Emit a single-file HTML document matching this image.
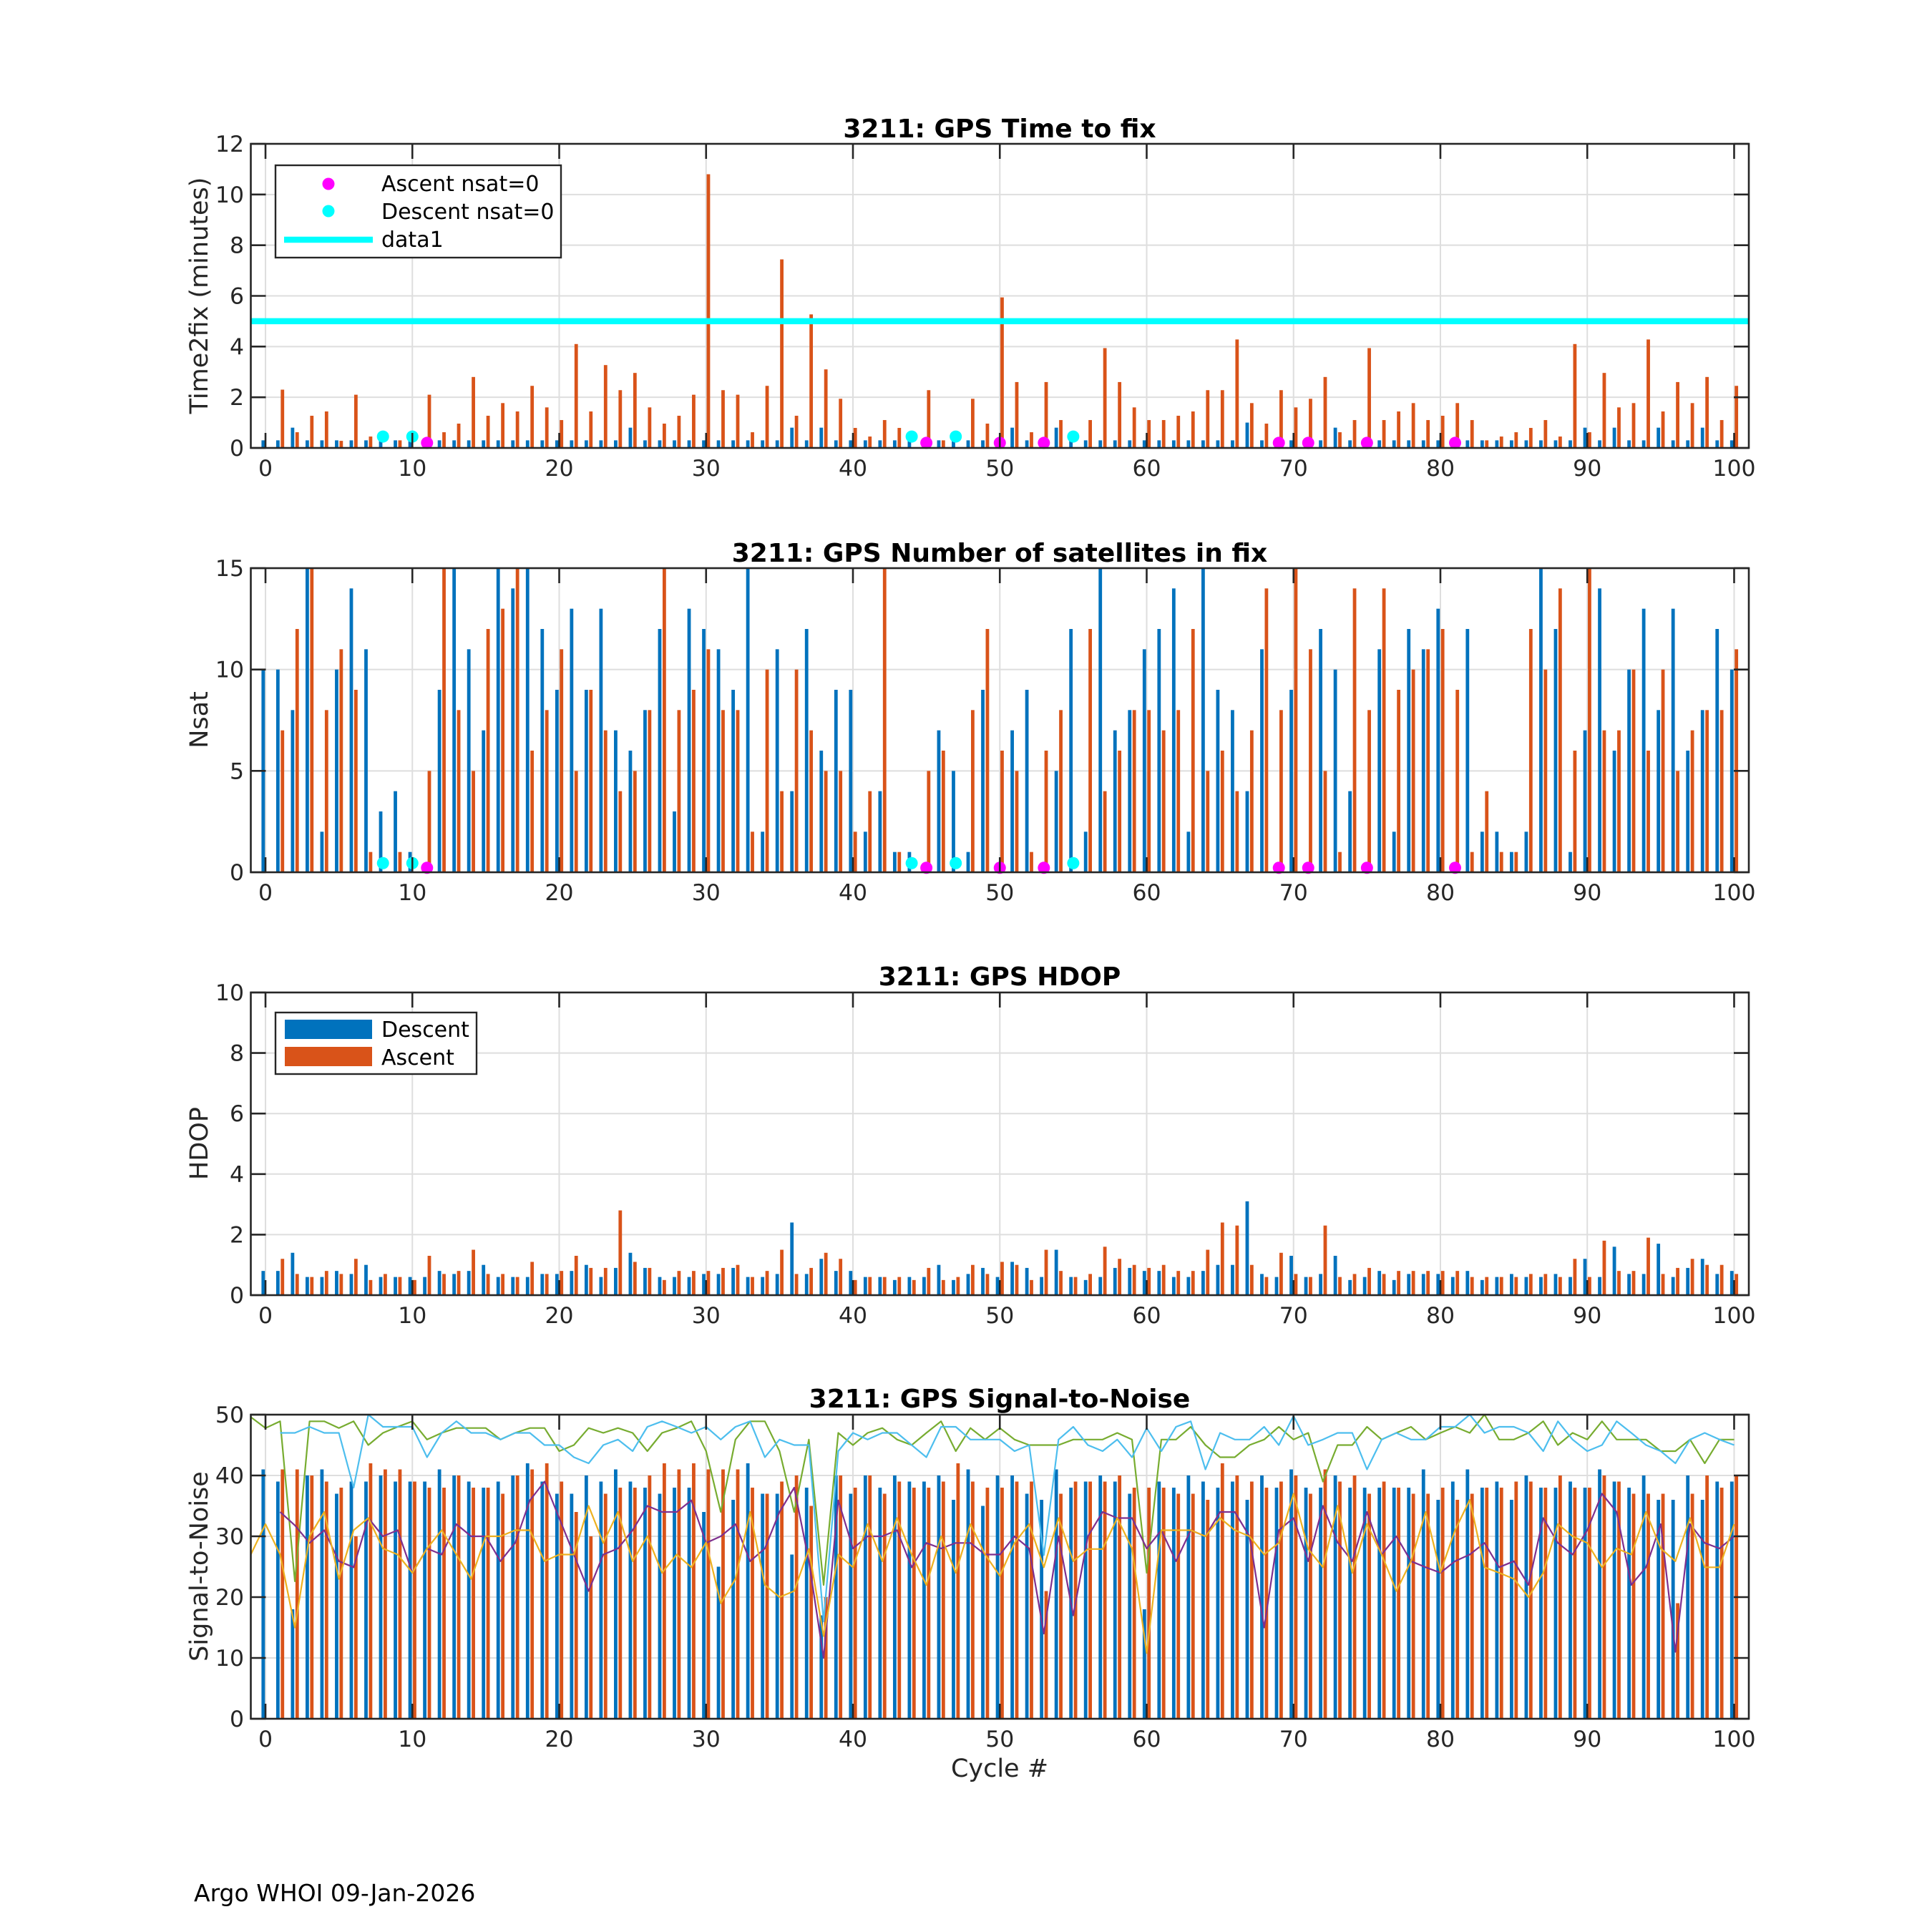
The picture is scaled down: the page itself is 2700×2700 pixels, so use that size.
<!DOCTYPE html>
<html><head><meta charset="utf-8"><title>3211 GPS diagnostics</title>
<style>
html,body{margin:0;padding:0;background:#fff;}
svg{display:block;font-family:"DejaVu Sans","Liberation Sans",sans-serif;}
</style></head>
<body>
<svg id="fig" xmlns="http://www.w3.org/2000/svg" width="2700" height="2700" viewBox="0 0 2700 2700">
<rect x="0" y="0" width="2700" height="2700" fill="#fff"/>
<g id="layer"></g>
<text x="1397" y="192" text-anchor="middle" font-size="36" font-weight="bold" fill="#000">3211: GPS Time to fix</text>
<text x="1397" y="785" text-anchor="middle" font-size="36" font-weight="bold" fill="#000">3211: GPS Number of satellites in fix</text>
<text x="1397" y="1377" text-anchor="middle" font-size="36" font-weight="bold" fill="#000">3211: GPS HDOP</text>
<text x="1397" y="1967" text-anchor="middle" font-size="36" font-weight="bold" fill="#000">3211: GPS Signal-to-Noise</text>
<text transform="translate(290,413) rotate(-90)" text-anchor="middle" font-size="35" fill="#262626">Time2fix (minutes)</text>
<text transform="translate(290,1006) rotate(-90)" text-anchor="middle" font-size="35" fill="#262626">Nsat</text>
<text transform="translate(290,1598) rotate(-90)" text-anchor="middle" font-size="35" fill="#262626">HDOP</text>
<text transform="translate(290,2189) rotate(-90)" text-anchor="middle" font-size="35" fill="#262626">Signal-to-Noise</text>
<text x="1397" y="2483" text-anchor="middle" font-size="35" fill="#262626">Cycle #</text>
<text x="271" y="2657" font-size="33" fill="#000">Argo WHOI 09-Jan-2026</text>
</svg>
<script>
const cycles=[0,1,2,3,4,5,6,7,8,9,10,11,12,13,14,15,16,17,18,19,20,21,22,23,24,25,26,27,28,29,30,31,32,33,34,35,36,37,38,39,40,41,42,43,44,45,46,47,48,49,50,51,52,53,54,55,56,57,58,59,60,61,62,63,64,65,66,67,68,69,70,71,72,73,74,75,76,77,78,79,80,81,82,83,84,85,86,87,88,89,90,91,92,93,94,95,96,97,98,99,100];
const lineCycles=[-1].concat(cycles);
const xTicks=[0,10,20,30,40,50,60,70,80,90,100];
const yTicksT2f=[0,2,4,6,8,10,12];
const yTicksNsat=[0,5,10,15];
const yTicksHdop=[0,2,4,6,8,10];
const yTicksSnr=[0,10,20,30,40,50];
const t2fDesc=[0.3,0.3,0.8,0.3,0.3,0.3,0.3,0.3,0.3,0.3,0.3,null,0.3,0.3,0.3,0.3,0.3,0.3,0.3,0.3,0.3,0.3,0.3,0.3,0.3,0.8,0.3,0.3,0.3,0.3,0.3,0.3,0.3,0.3,0.3,0.3,0.8,0.3,0.8,0.3,0.3,0.3,0.3,0.3,0.3,null,0.3,0.3,0.3,0.3,null,0.8,0.3,null,0.8,0.3,0.3,0.3,0.3,0.3,0.3,0.3,0.3,0.3,0.3,0.3,0.3,1.0,0.3,null,0.3,null,0.3,0.8,0.3,null,0.3,0.3,0.3,0.3,0.3,null,0.3,0.3,0.3,0.3,0.3,0.3,0.3,0.3,0.8,0.3,0.8,0.3,0.3,0.8,0.3,0.3,0.8,0.3,0.3];
const t2fAsc=[null,2.3,0.62,1.27,1.44,0.28,2.1,0.45,null,0.3,null,2.1,0.62,0.96,2.8,1.27,1.77,1.44,2.45,1.6,1.1,4.1,1.44,3.27,2.28,2.96,1.6,0.96,1.27,2.1,10.8,2.28,2.1,0.62,2.45,7.44,1.27,5.27,3.1,1.94,0.79,0.45,1.1,0.79,null,2.28,0.3,null,1.94,0.96,5.94,2.6,0.62,2.6,1.1,null,1.1,3.94,2.6,1.6,1.1,1.1,1.27,1.44,2.28,2.28,4.28,1.77,0.96,2.28,1.6,1.94,2.8,0.62,1.1,3.94,1.1,1.44,1.77,1.1,1.27,1.77,1.1,0.3,0.45,0.62,0.79,1.1,0.45,4.1,0.62,2.96,1.6,1.77,4.28,1.44,2.6,1.77,2.8,1.1,2.45];
const fixLimit=[5];
const ascZeroCycles=[11,45,50,53,69,71,75,81];
const descZeroCycles=[8,10,44,47,55];
const markValT2f=[0.2,0.45];
const markValNsat=[0.22,0.45];
const nsatDesc=[10,10,8,15,2,10,14,11,3,4,1,null,9,15,11,7,15,14,15,12,9,13,9,13,7,6,8,12,3,13,12,11,9,15,2,11,4,12,6,9,9,2,4,1,1,null,7,5,1,9,null,7,9,null,5,12,2,15,7,8,11,12,14,2,15,9,8,4,11,null,9,null,12,10,4,null,11,2,12,11,13,null,12,2,2,1,2,15,12,1,7,14,6,10,13,8,13,6,8,12,10];
const nsatAsc=[null,7,12,15,8,11,9,1,null,1,null,5,15,8,5,12,13,15,6,8,11,5,9,7,4,5,8,15,8,9,11,8,8,2,10,4,10,7,5,5,2,4,15,1,null,5,6,null,8,12,6,5,1,6,8,null,12,4,6,8,8,7,8,12,5,6,4,7,14,8,15,11,5,1,14,8,14,9,10,11,12,9,1,4,1,1,12,10,14,6,15,7,7,10,6,10,5,7,8,8,11];
const hdopDesc=[0.8,0.8,1.4,0.6,0.6,0.8,0.7,1.0,0.6,0.6,0.6,0.6,0.8,0.7,0.8,1.0,0.6,0.6,0.6,0.7,0.7,0.8,1.0,0.6,0.9,1.4,0.9,0.6,0.6,0.6,0.7,0.7,0.9,0.6,0.6,0.7,2.4,0.7,1.2,0.8,0.8,0.6,0.6,0.5,0.6,0.6,1.0,0.5,0.7,0.9,0.6,1.1,0.9,0.6,1.5,0.6,0.5,0.6,0.9,0.9,0.8,0.8,0.6,0.6,0.8,1.0,1.0,3.1,0.7,0.6,1.3,0.6,0.7,1.3,0.5,0.6,0.8,0.5,0.7,0.7,0.7,0.6,0.8,0.5,0.6,0.7,0.6,0.6,0.7,0.6,1.2,0.6,1.6,0.7,0.7,1.7,0.6,0.9,1.2,0.7,0.8];
const hdopAsc=[null,1.2,0.7,0.6,0.8,0.7,1.2,0.5,0.7,0.6,0.5,1.3,0.7,0.8,1.5,0.7,0.7,0.6,1.1,0.7,0.8,1.3,0.9,0.9,2.8,1.1,0.9,0.5,0.8,0.8,0.8,0.9,1.0,0.6,0.8,1.5,0.7,0.9,1.4,1.2,0.5,0.6,0.6,0.6,0.5,0.9,0.5,0.6,1.0,0.7,1.1,1.0,0.5,1.5,0.8,0.6,0.7,1.6,1.2,1.0,0.9,1.0,0.8,0.8,1.5,2.4,2.3,1.0,0.6,1.4,0.7,0.6,2.3,0.6,0.7,0.9,0.7,0.8,0.8,0.8,0.8,0.8,0.6,0.6,0.6,0.6,0.7,0.7,0.6,1.2,0.6,1.8,0.8,0.8,1.9,0.7,0.9,1.2,1.0,1.0,0.7];
const snrDesc=[41,39,18,40,41,37,39,39,40,39,39,39,41,40,39,38,39,40,42,39,37,37,40,39,41,39,38,37,38,38,34,25,36,42,37,37,27,38,17,40,37,40,38,40,39,39,40,36,41,35,40,40,37,36,41,38,39,40,39,37,18,39,38,40,39,38,39,36,40,38,41,38,38,40,38,38,38,38,38,41,36,39,41,38,39,36,40,38,38,39,38,41,39,38,40,36,36,40,36,39,39];
const snrAsc=[null,41,41,40,39,38,30,42,41,41,39,38,38,40,38,38,37,40,41,42,39,34,30,37,38,38,40,42,41,42,41,41,41,38,37,39,40,35,20,40,38,40,37,39,38,38,39,42,39,38,38,39,39,21,37,39,39,39,40,38,38,38,37,37,36,42,40,39,38,39,40,37,41,39,40,37,39,38,37,37,38,36,37,38,38,39,39,38,40,38,38,40,39,37,37,37,19,37,40,38,40];
const snrGreen=[49.6,47.8,48.9,22.6,48.9,48.9,47.8,48.9,45,47,48,48.9,45.9,47,47.8,47.8,47.8,45.9,47,47.8,47.8,44,45,47.8,47,47.8,47,44,47,47.8,48.9,44,34,45.9,48.9,48.9,44,34,45.9,22,47,45,47,47.8,45.9,45,47,48.9,44,47.8,45.9,47.8,45.9,45,45,45,45.9,45.9,45.9,47,45.9,24,45.9,45.9,48,45,43,43,45,45.9,48,45.9,47,39,45,45,48,45.9,47,48,45.9,47,48,47,50,45.9,45.9,47,48.9,45,47,45.9,48.9,45.9,45.9,45.9,44,44,45.9,42,45.9,45.9];
const snrCyan=[null,null,47,47,48,47,47,38,50,48,48,48,43,47,48.9,47,47,45.9,47,47,45,45,43,42,45,45.9,44,48,48.9,48,47,48,45.9,48,48.9,43,45.9,45,45,16,44,47,45.9,47,47,45,43,48,48,45.9,45.9,45.9,44,45,26.9,45.9,48,45,44,45.9,43,47.8,44,48,48.9,41,47,45.9,45.9,48,45,49.8,45,45.9,47,47,41,45.9,47,45.9,45.9,48,48,50,47,48,48,47,44,48.9,45.9,44,45,48.9,47,45,44,42,45.9,47,45.9,45];
const snrPurple=[null,null,34,31.8,28.9,31,25.9,24.9,33,30,31,24,28,27,32,30,30,25.9,28.9,35.9,39,33,27,21,27,28,31,35,34,34,35.9,28.9,30,32,25.9,28,34,38,25.9,10,35.9,28,30,30,31,24.9,28.9,28,28.9,28.9,27,27,30,28,14,30,17,30,34,33,33,28,31,25.9,31,30,34,34,30,15,31,33,25.9,35,29,25.9,34,27,30,25.9,24.9,24,25.9,27,28.9,24.9,25.9,22,33,28.9,27,31,37,34,22,24.9,32,11,32,28.9,28,30];
const snrYellow=[27,32,27,15,30,34,23,31,33,28,27,24,28,31,27,23,30,30,31,31,25.9,27,27,35,28.9,34,25.9,30,24,27,24.9,29,19,23,34,22,20,21,27.9,13.6,27,24.9,32,25.9,33,27,22,30,24,32,27,23.5,28.9,32,24.9,33,25.9,27.9,27.9,33,28,10.8,31,31,31,30,33,31,30,27,28.9,37,27.9,24.9,35,24,32,27,21,25.9,34,24.1,31,36,24.9,24,23,20,24,32,30,28.9,24.9,28,27,34,28,25.9,33,24.9,24.9,32];

const NS='http://www.w3.org/2000/svg';
const layer=document.getElementById('layer');
const X0=350.5,X1=2444,XMIN=-1,XMAX=101;
const BLUE='#0072BD',ORANGE='#D95319',AX='#262626',GRID='#dedede';
function xs(c){return X0+(c-XMIN)/(XMAX-XMIN)*(X1-X0);}
function mk(tag,attrs,parent){const e=document.createElementNS(NS,tag);for(const k in attrs)e.setAttribute(k,attrs[k]);(parent||layer).appendChild(e);return e;}
const panels=[
 {key:'time2fix',top:201,bottom:626,ymax:12,ticks:yTicksT2f},
 {key:'nsat',top:794,bottom:1219,ymax:15,ticks:yTicksNsat},
 {key:'hdop',top:1387,bottom:1810,ymax:10,ticks:yTicksHdop},
 {key:'snr',top:1977,bottom:2402,ymax:50,ticks:yTicksSnr}
];
function yfn(p){return v=>p.bottom-(v/p.ymax)*(p.bottom-p.top);}

function drawFrame(p){
 const g=mk('g',{});
 
 
 const y=yfn(p);
 for(const t of xTicks){
  const l=mk('line',{x1:xs(t),x2:xs(t),y1:p.top,y2:p.bottom,stroke:GRID,'stroke-width':2},g);
  
  
 }
 for(const t of p.ticks){
  const l=mk('line',{x1:X0,x2:X1,y1:y(t),y2:y(t),stroke:GRID,'stroke-width':2},g);
  
  
 }
 p.g=g;
}
function drawAxes(p){
 const g=mk('g',{});
 
 
 const y=yfn(p);
 const r=mk('rect',{x:X0,y:p.top,width:X1-X0,height:p.bottom-p.top,fill:'none',stroke:AX,'stroke-width':2.6},g);
 
 
 for(const t of xTicks){
  const tb=mk('line',{x1:xs(t),x2:xs(t),y1:p.bottom,y2:p.bottom-21,stroke:AX,'stroke-width':2.6},g);
  
  
  const tt=mk('line',{x1:xs(t),x2:xs(t),y1:p.top,y2:p.top+21,stroke:AX,'stroke-width':2.6},g);
  
  
  const lb=mk('text',{x:xs(t),y:p.bottom+39,'text-anchor':'middle','font-size':31.5,fill:AX},g);
  lb.textContent=String(t);
  
  
 }
 for(const t of p.ticks){
  const tl=mk('line',{x1:X0,x2:X0+21,y1:y(t),y2:y(t),stroke:AX,'stroke-width':2.6},g);
  
  
  const tr=mk('line',{x1:X1,x2:X1-21,y1:y(t),y2:y(t),stroke:AX,'stroke-width':2.6},g);
  
  
  const lb=mk('text',{x:341,y:y(t)+11,'text-anchor':'end','font-size':31.5,fill:AX},g);
  lb.textContent=String(t);
  
  
 }
}
function drawBars(p,vals,color,off,name){
 const y=yfn(p);const w=4.8;
 vals.forEach((v,i)=>{
  if(v===null)return;
  const c=cycles[i];
  const top=Math.max(y(Math.min(v,p.ymax)),p.top);
  const b=mk('rect',{x:xs(c)+off-w/2,y:top,width:w,height:p.bottom-top,fill:color},p.g);
  
  
 });
}
function drawMarkers(p,cyc,val,color,name){
 const y=yfn(p);
 cyc.forEach(c=>{
  const m=mk('circle',{cx:xs(c),cy:y(val),r:8.5,fill:color},p.g);
  
  
 });
}
function drawLine(p,xsArr,vals,color,name){
 const y=yfn(p);let d='';let pen=false;
 vals.forEach((v,i)=>{
  if(v===null){pen=false;return;}
  d+=(pen?'L':'M')+xs(xsArr[i]).toFixed(1)+' '+y(v).toFixed(1)+' ';pen=true;
 });
 const l=mk('path',{d:d,fill:'none',stroke:color,'stroke-width':2.2,'stroke-linejoin':'round'},p.g);
 
 
}

panels.forEach(drawFrame);
const P1=panels[0];
drawBars(P1,t2fDesc,BLUE,-3.2,'t2f-descent');
drawBars(P1,t2fAsc,ORANGE,3.2,'t2f-ascent');
drawMarkers(P1,ascZeroCycles,markValT2f[0],'#FF00FF','ascent-nsat0');
drawMarkers(P1,descZeroCycles,markValT2f[1],'#00FFFF','descent-nsat0');
{const y=yfn(P1);
 const l=mk('line',{x1:X0,x2:X1,y1:y(fixLimit[0]),y2:y(fixLimit[0]),stroke:'#00FFFF','stroke-width':8.5},P1.g);
 
 }
const P2=panels[1];
drawBars(P2,nsatDesc,BLUE,-3.2,'nsat-descent');
drawBars(P2,nsatAsc,ORANGE,3.2,'nsat-ascent');
drawMarkers(P2,ascZeroCycles,markValNsat[0],'#FF00FF','nsat-ascent-zero');
drawMarkers(P2,descZeroCycles,markValNsat[1],'#00FFFF','nsat-descent-zero');
const P3=panels[2];
drawBars(P3,hdopDesc,BLUE,-3.2,'hdop-descent');
drawBars(P3,hdopAsc,ORANGE,3.2,'hdop-ascent');
const P4=panels[3];
drawBars(P4,snrDesc,BLUE,-3.2,'snr-descent');
drawBars(P4,snrAsc,ORANGE,3.2,'snr-ascent');
drawLine(P4,lineCycles,snrGreen,'#77AC30','snr-line-green');
drawLine(P4,lineCycles,snrCyan,'#4DBEEE','snr-line-lightblue');
drawLine(P4,lineCycles,snrPurple,'#7E2F8E','snr-line-purple');
drawLine(P4,lineCycles,snrYellow,'#EDB120','snr-line-yellow');
panels.forEach(drawAxes);

{const g=mk('g',{});
 
 
 const b=mk('rect',{x:385,y:231,width:399,height:129,fill:'#fff',stroke:AX,'stroke-width':2.4},g);
 
 
 const m1=mk('circle',{cx:459,cy:257,r:8.5,fill:'#FF00FF'},g);
 
 
 const t1=mk('text',{x:533,y:267,'font-size':30,fill:'#000'},g);t1.textContent='Ascent nsat=0';
 
 
 const m2=mk('circle',{cx:459,cy:295,r:8.5,fill:'#00FFFF'},g);
 
 
 const t2=mk('text',{x:533,y:306,'font-size':30,fill:'#000'},g);t2.textContent='Descent nsat=0';
 
 
 const l3=mk('line',{x1:397,x2:521,y1:335,y2:335,stroke:'#00FFFF','stroke-width':8.5},g);
 
 
 const t3=mk('text',{x:533,y:345,'font-size':30,fill:'#000'},g);t3.textContent='data1';
 
 }
{const g=mk('g',{});
 
 
 const b=mk('rect',{x:385,y:1415,width:281,height:86,fill:'#fff',stroke:AX,'stroke-width':2.4},g);
 
 
 const r1=mk('rect',{x:398,y:1425,width:122,height:27,fill:BLUE},g);
 
 
 const t1=mk('text',{x:533,y:1449,'font-size':30,fill:'#000'},g);t1.textContent='Descent';
 
 
 const r2=mk('rect',{x:398,y:1463,width:122,height:27,fill:ORANGE},g);
 
 
 const t2=mk('text',{x:533,y:1488,'font-size':30,fill:'#000'},g);t2.textContent='Ascent';
 
 }
</script>
</body></html>
